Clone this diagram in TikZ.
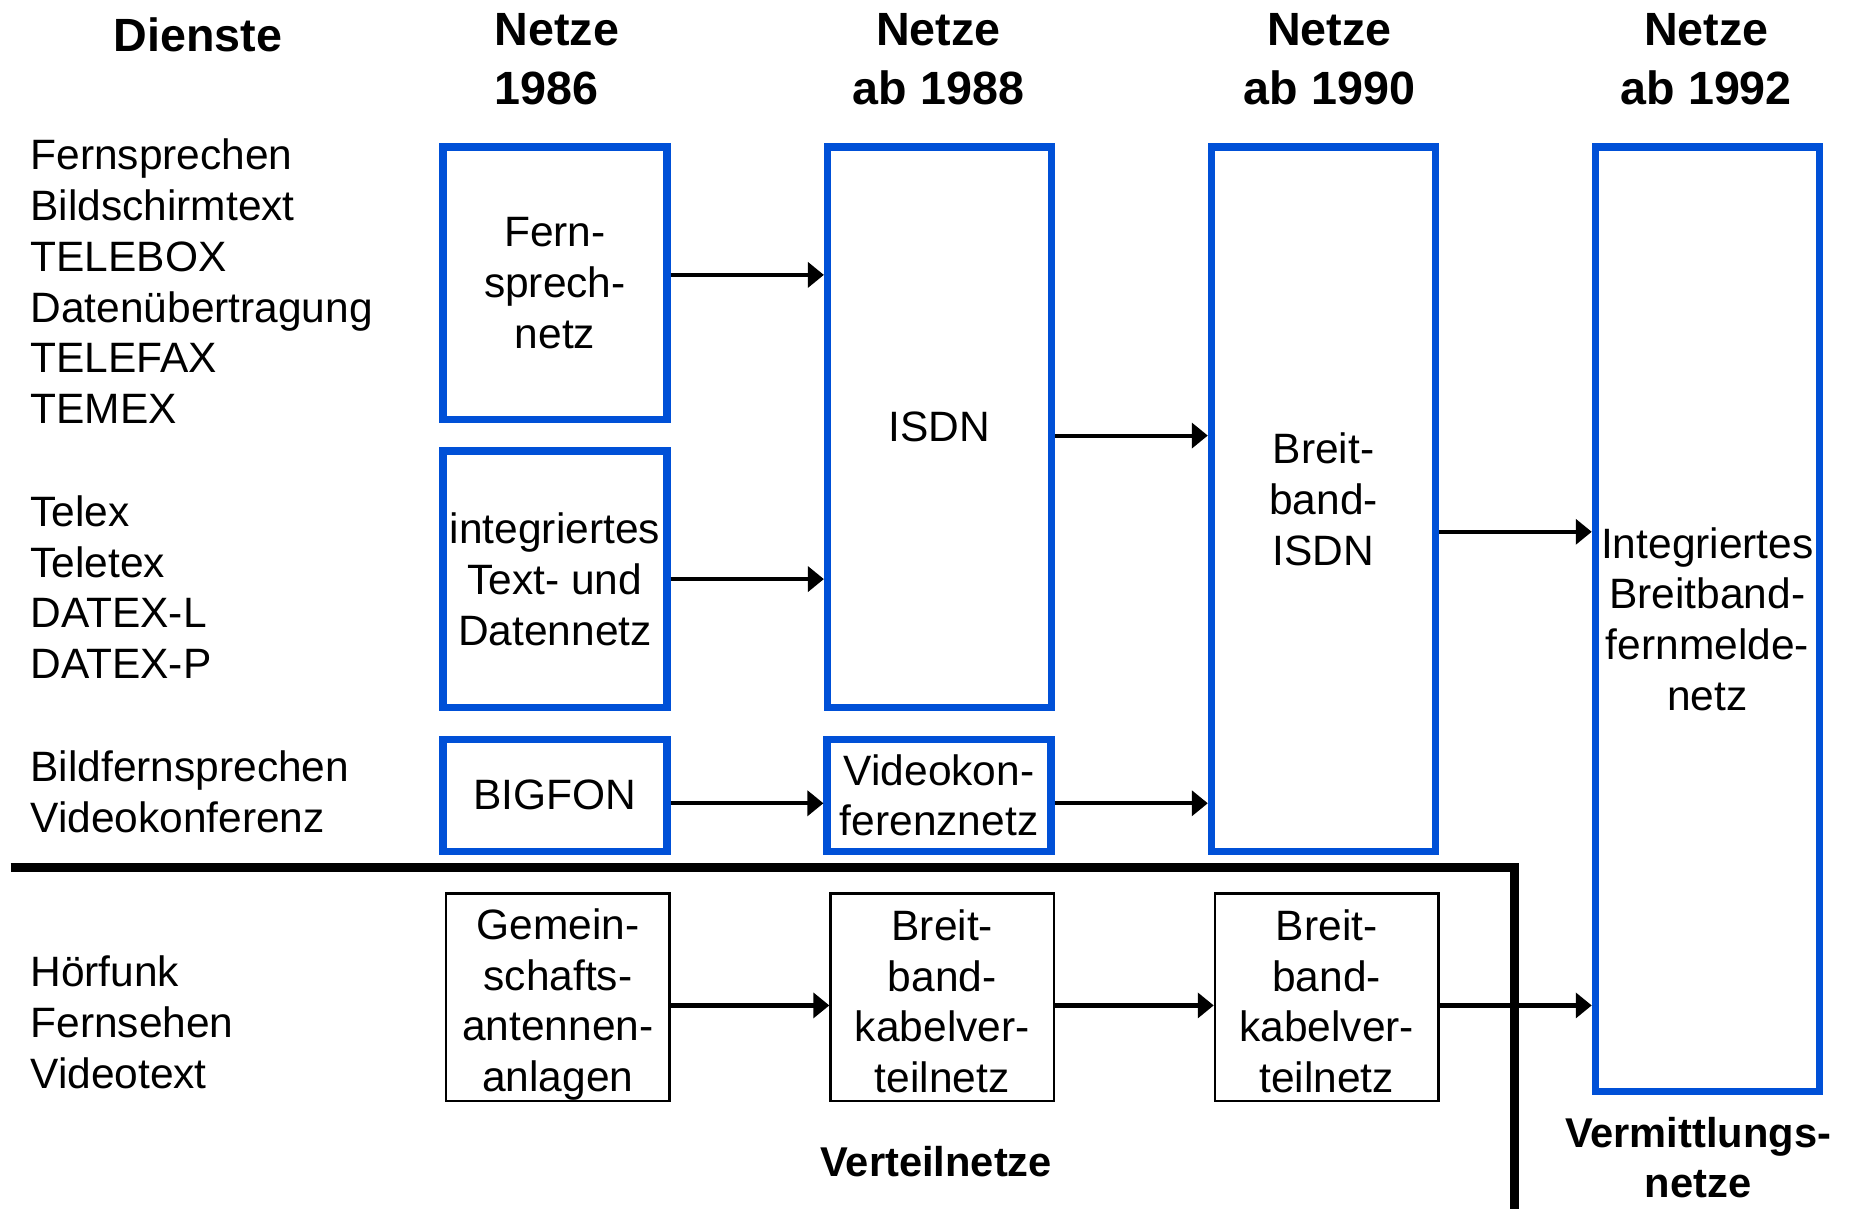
\documentclass[tikz,border=0pt]{standalone}
\usepackage{fontspec}
\setmainfont{Liberation Sans}
\usepackage{tikz}
\usetikzlibrary{arrows.meta}
\usetikzlibrary{positioning}

\definecolor{netzblau}{RGB}{0,80,215}

\begin{document}
\begin{tikzpicture}[%
  x=1mm,y=-1mm,
  every node/.style={inner sep=0pt,align=center,font=\fontsize{10.2}{12.2}\selectfont},
  kopf/.style={anchor=north,font=\bfseries\fontsize{11.2}{14.2}\selectfont},
  fuss/.style={anchor=north,font=\bfseries\fontsize{10}{12}\selectfont},
  dienst/.style={anchor=north west,align=left},
  netz/.style={draw=netzblau,line width=0.62mm,minimum width=18.9mm},
  vnetz/.style={draw,line width=0.2mm,minimum width=18.86mm,minimum height=17.5mm},
  pfeil/.style={-{Triangle[length=1.35mm,width=2.1mm]},line width=0.35mm},
  node distance=12.9mm]
  \useasboundingbox (0,0) rectangle (156.8,102);
  % the headings
  \node[kopf] (dienste) at (16.7,1.45) {Dienste};
  \node[kopf,anchor=north west,align=left] (k86) at (41.67,1.05) {Netze\\1986};
  \node[kopf] (k88) at (79.2,1.05) {Netze\\ab 1988};
  \node[kopf] (k90) at (112.2,1.05) {Netze\\ab 1990};
  \node[kopf] (k92) at (144.0,1.05) {Netze\\ab 1992};
  % the services
  \node[dienst] (d1) at (2.5,11.65) {Fernsprechen\\Bildschirmtext\\TELEBOX\\Datenübertragung\\TELEFAX\\TEMEX};
  \node[dienst] (d2) at (2.5,41.75) {Telex\\Teletex\\DATEX-L\\DATEX-P};
  \node[dienst] (d3) at (2.5,63.3) {Bildfernsprechen\\Videokonferenz};
  \node[dienst] (d4) at (2.5,80.6) {Hörfunk\\Fernsehen\\Videotext};
  % the switched networks
  \node[netz,minimum height=23mm] (fern) at (46.83,23.91) {Fern-\\sprech-\\netz};
  \node[netz,minimum height=21.63mm] (itd) at (46.83,48.87) {integriertes\\Text- und\\Datennetz};
  \node[netz,minimum height=9.45mm] (bigfon) at (46.83,67.12) {BIGFON};
  \node[netz,minimum height=9.45mm,right=of bigfon] (vk) {Videokon-\\ferenznetz};
  \node[netz,minimum height=47.28mm] (isdn) at (79.29,36.05) {ISDN};
  \node[netz,minimum height=59.43mm] (bisdn) at (111.69,42.13) {Breit-\\band-\\ISDN};
  \node[netz,minimum height=79.68mm] (ibfn) at (144.09,52.25) {Integriertes\\Breitband-\\fernmelde-\\netz};
  % the distribution networks
  \node[vnetz] (gaa) at (47.08,84.15) {\rule{0pt}{3.85mm}Gemein-\\schafts-\\antennen-\\anlagen};
  \node[vnetz,right=13.38mm of gaa] (bbk1) {\rule{0pt}{3.3mm}Breit-\\band-\\kabelver-\\teilnetz};
  \node[vnetz,right=13.38mm of bbk1] (bbk2) {\rule{0pt}{3.3mm}Breit-\\band-\\kabelver-\\teilnetz};
  % the footers
  \node[fuss] (vert) at (79.0,96.7) {Verteilnetze};
  \node[fuss] (verm) at (143.3,94.2) {Vermittlungs-\\netze};
  % the border line
  \draw[line width=0.7mm] (0.9,73.2) -- (127.8,73.2) -- (127.8,102.5);
  % the arrows
  \draw[pfeil] ([yshift=0.71mm]fern.east) -- ([yshift=0.71mm]fern.east -| isdn.west);
  \draw[pfeil] (itd.east) -- (itd.east -| isdn.west);
  \draw[pfeil] ([yshift=-0.67mm]bigfon.east) -- ([yshift=-0.67mm]vk.west);
  \draw[pfeil] ([yshift=-0.71mm]isdn.east) -- ([yshift=-0.71mm]isdn.east -| bisdn.west);
  \draw[pfeil] ([yshift=-0.67mm]vk.east) -- ([yshift=-0.67mm]vk.east -| bisdn.west);
  \draw[pfeil] ([yshift=-2.75mm]bisdn.east) -- ([yshift=-2.75mm]bisdn.east -| ibfn.west);
  \draw[pfeil] ([yshift=-0.7mm]gaa.east) -- ([yshift=-0.7mm]bbk1.west);
  \draw[pfeil] ([yshift=-0.7mm]bbk1.east) -- ([yshift=-0.7mm]bbk2.west);
  \draw[pfeil] ([yshift=-0.7mm]bbk2.east) -- ([yshift=-0.7mm]bbk2.east -| ibfn.west);
\end{tikzpicture}
\end{document}
